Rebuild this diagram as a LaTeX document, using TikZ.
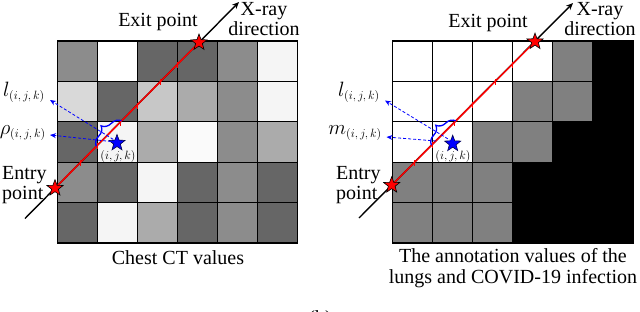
\documentclass[tikz,border=0pt]{standalone}
\usepackage{fontspec}
\setmainfont{Liberation Serif}
\usetikzlibrary{shapes.geometric,arrows.meta,decorations.pathreplacing,calc}
\newcommand{\ijksub}{\hbox{\fontsize{12}{12}\selectfont$(i,j,k)$}}
\begin{document}
\begin{tikzpicture}[x=1pt,y=-1pt,
  lbl/.style={font=\fontsize{20}{20.5}\selectfont, inner sep=0pt, align=center},
  small/.style={font=\fontsize{13}{14}\selectfont, inner sep=0pt},
  gridline/.style={line width=1.3pt, line cap=rect},
  xray/.style={line width=1.4pt, -{Stealth[length=7pt,width=6pt]}},
  redray/.style={red, line width=1.5pt},
  tickmark/.style={red, line width=0.9pt},
  redstar/.style={star, star points=5, star point ratio=2.4, fill=red, draw=black, line width=0.6pt, minimum size=17pt, inner sep=0pt},
  bluestar/.style={star, star points=5, star point ratio=2.4, fill=blue, draw=black!70!blue, line width=0.6pt, minimum size=17pt, inner sep=0pt},
  bracestyle/.style={blue, line width=1.3pt, decorate, decoration={brace, amplitude=11pt}},
  dasharrow/.style={blue, densely dashed, line width=0.8pt, -{Stealth[length=6pt,width=5pt]}}
]
\useasboundingbox (0,0) rectangle (640,311);

% ---------------- left panel cells ----------------
\foreach \row [count=\r from 0] in {{45,0,60,60,45,4},{15,60,22,33,45,4},{60,4,33,2,45,33},{45,60,4,60,45,60},{60,4,33,60,45,60}} {
  \foreach \v [count=\c from 0] in \row {
    \fill[black!\v] (57.2+\c*40.1, 41+\r*40.4) rectangle ++(40.1,40.4);
  }
}
\foreach \i in {0,...,6} \draw[gridline] (57.2+\i*40.1,41) -- (57.2+\i*40.1,243);
\foreach \j in {0,...,5} \draw[gridline] (57.2,41+\j*40.4) -- (297.8,41+\j*40.4);

% ---------------- right panel cells ----------------
\foreach \row [count=\r from 0] in {{0,0,0,0,50,100},{0,0,0,50,50,100},{0,0,50,50,100,100},{50,50,50,100,100,100},{50,50,50,100,100,100}} {
  \foreach \v [count=\c from 0] in \row {
    \fill[black!\v] (392.4+\c*40.1, 41+\r*40.4) rectangle ++(40.1,40.4);
  }
}
\foreach \i in {0,...,6} \draw[gridline] (392.4+\i*40.1,41) -- (392.4+\i*40.1,243);
\foreach \j in {0,...,5} \draw[gridline] (392.4,41+\j*40.4) -- (633,41+\j*40.4);

% ---------------- left rays ----------------
\coordinate (SL) at (25,218.5);
\coordinate (TL) at (239,2);
\draw[xray] (SL) -- (TL);
\coordinate (entryLc) at (55,188.15);
\coordinate (exitLc) at (199,42.5);
\draw[redray] (entryLc) -- (exitLc);
\foreach \p in {(80.65,162.2),(97.3,145.35),(120.6,121.8),(137.4,104.8),(160.5,81.4),(177.5,64.2)}
  \draw[tickmark] \p ++(0,-2) -- ++(0,6);
\node[redstar] (entryL) at (entryLc) {};
\node[redstar] (exitL) at (exitLc) {};

% brace and labels left
\coordinate (b1L) at (96.3,146.35);
\coordinate (b2L) at (121.6,120.8);
\draw[bracestyle] (b1L) -- (b2L);
\coordinate (bmL) at ($(b1L)!0.5!(b2L)$);
\coordinate (btipL) at ($(bmL)!12pt!-90:(b2L)$);
\node[bluestar] (voxL) at (117,143) {};
\node[small] (ijkL) at (118,156) {$(i,j,k)$};
\node[lbl, anchor=east] (lL) at (45,92) {$l_{\ijksub}$};
\node[lbl, anchor=east] (rhoL) at (46,133) {$\rho_{\ijksub}$};
\coordinate (lLa) at (50,100);
\coordinate (rhoLa) at (50,135);
\coordinate (rhoLs) at (111,141.5);
\draw[dasharrow] (btipL) -- (lLa);
\draw[dasharrow] (rhoLs) -- (rhoLa);

\node[lbl] (exitLt) at (158,22) {Exit point};
\node[lbl] (xrayLt) at (264,19) {X-ray\\direction};
\node[lbl, anchor=west, align=left] (entryLt) at (2,185) {Entry\\point};
\node[lbl] (capL) at (178,258) {Chest CT values};

% ---------------- right rays ----------------
\coordinate (SR) at (359,218);
\coordinate (TR) at (573,3);
\draw[xray] (SR) -- (TR);
\coordinate (entryRc) at (391.7,185.15);
\coordinate (exitRc) at (535,41.6);
\draw[redray] (entryRc) -- (exitRc);
\foreach \p in {(414.5,162.2),(432.5,144.2),(454.75,121.8),(472.6,103.9),(495,81.4),(512.7,63.6)}
  \draw[tickmark] \p ++(0,-2) -- ++(0,6);
\node[redstar] (entryR) at (entryRc) {};
\node[redstar] (exitR) at (exitRc) {};

\coordinate (b1R) at (431.5,145.2);
\coordinate (b2R) at (455.75,120.8);
\draw[bracestyle] (b1R) -- (b2R);
\coordinate (bmR) at ($(b1R)!0.5!(b2R)$);
\coordinate (btipR) at ($(bmR)!12pt!-90:(b2R)$);
\node[bluestar] (voxR) at (452.7,143.7) {};
\node[small] (ijkR) at (453,156) {$(i,j,k)$};
\node[lbl, anchor=east] (lR) at (380,92) {$l_{\ijksub}$};
\node[lbl, anchor=east] (mR) at (382,133) {$m_{\ijksub}$};
\coordinate (lRa) at (385,100.5);
\coordinate (mRa) at (386.5,137);
\coordinate (mRs) at (436,141);
\draw[dasharrow] (btipR) -- (lRa);
\draw[dasharrow] (mRs) -- (mRa);

\node[lbl] (exitRt) at (488,23) {Exit point};
\node[lbl] (xrayRt) at (600,19) {X-ray\\direction};
\node[lbl, anchor=west, align=left] (entryRt) at (336,185) {Entry\\point};
\node[lbl] (capR) at (513,268) {The annotation values of the\\lungs and COVID-19 infection};

\node[lbl, anchor=base] (subcap) at (320,324) {(b)};
\end{tikzpicture}
\end{document}
